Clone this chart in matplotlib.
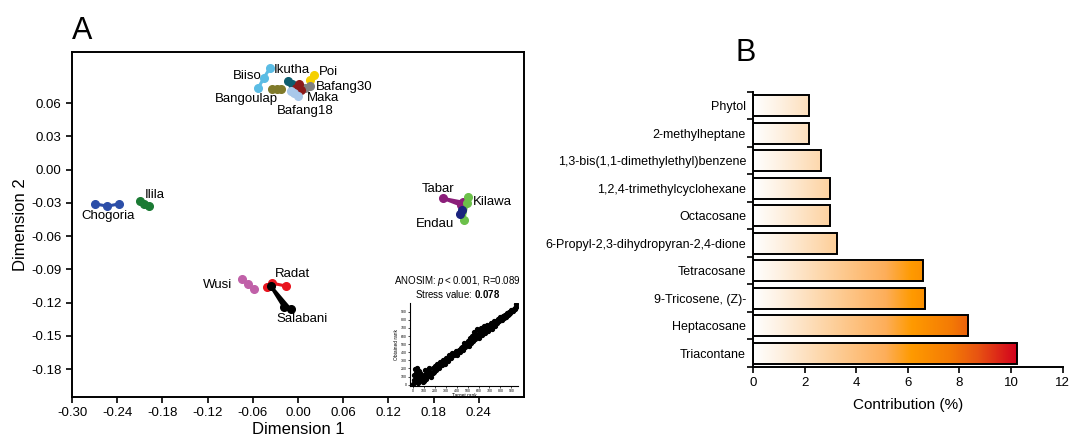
import numpy as np
import matplotlib.pyplot as plt
from matplotlib.colors import LinearSegmentedColormap

plt.rcParams['font.family'] = ['Liberation Sans', 'DejaVu Sans']
plt.rcParams['mathtext.fontset'] = 'custom'
plt.rcParams['mathtext.rm'] = 'Liberation Sans'
plt.rcParams['mathtext.it'] = 'Liberation Sans:italic'
plt.rcParams['mathtext.bf'] = 'Liberation Sans:bold'

# ---- panel A: NMDS ----
groups = ['Biiso', 'Bangoulap', 'Ikutha', 'Poi', 'Bafang30', 'Maka', 'Bafang18',
          'Chogoria', 'Ilila', 'Tabar', 'Kilawa', 'Endau', 'Wusi', 'Radat', 'Salabani']
group_x = [[-0.037, -0.045, -0.053],
           [-0.035, -0.028, -0.022],
           [-0.0135, -0.0077],
           [0.021, 0.0165],
           [0.0156, 0.0099],
           [0.001, -0.0033, 0.0033],
           [-0.0099, -0.0055, -0.0003],
           [-0.270, -0.253, -0.237],
           [-0.2096, -0.204, -0.1974],
           [0.219, 0.193, 0.217],
           [0.226, 0.2246, 0.2202],
           [0.218, 0.215],
           [-0.0738, -0.0664, -0.0585],
           [-0.0417, -0.0341, -0.0165],
           [-0.0188, -0.0364, -0.0099]]
group_y = [[0.0919, 0.083, 0.0734],
           [0.0725, 0.0725, 0.0725],
           [0.080, 0.077],
           [0.0854, 0.0809],
           [0.0755, 0.0737],
           [0.077, 0.074, 0.0719],
           [0.071, 0.0689, 0.0659],
           [-0.0308, -0.033, -0.0308],
           [-0.0279, -0.0308, -0.033],
           [-0.0294, -0.026, -0.0323],
           [-0.0245, -0.030, -0.045],
           [-0.0366, -0.0404],
           [-0.0988, -0.1033, -0.1078],
           [-0.1054, -0.1024, -0.1049],
           [-0.124, -0.1048, -0.126]]
group_colors = ['#5BBCE4', '#7F7A2A', '#0E5E6F', '#F5D000', '#808080', '#8B1A1A', '#A9C8EA',
                '#2C4EA8', '#1A7A33', '#8B1E7A', '#6CC04A', '#1A237E', '#C060A8', '#E8141E', '#000000']
# label anchor (x, y, ha)
label_pos = [(-0.067, 0.0847, 'center'), (-0.069, 0.0635, 'center'), (-0.0077, 0.0898, 'center'),
             (0.0403, 0.0878, 'center'), (0.0231, 0.0748, 'left'), (0.0112, 0.0644, 'left'),
             (0.0099, 0.0524, 'center'), (-0.252, -0.042, 'center'), (-0.2035, -0.0225, 'left'),
             (0.186, -0.0174, 'center'), (0.2325, -0.029, 'left'), (0.182, -0.049, 'center'),
             (-0.107, -0.104, 'center'), (-0.0077, -0.0943, 'center'), (0.0055, -0.1348, 'center')]

# inset Shepard plot (target rank, obtained rank)
shep_target = [5, 10, 15, 20, 25, 30, 35, 40, 45, 50, 55, 60, 70, 80, 90, 100, 110, 120, 130, 140,
               150, 160, 170, 180, 190, 200, 210, 220, 240, 250, 260, 280, 290, 300, 320, 330, 350,
               360, 380, 390, 400, 420, 430, 450, 460, 470, 480, 500, 510, 520, 530, 540, 550, 560,
               570, 580, 590, 600, 610, 620, 630, 640, 650, 660, 670, 680, 690, 700, 710, 720, 730,
               740, 750, 760, 770, 780, 790, 800, 810, 820, 830, 840, 850, 860, 870, 880, 890, 900,
               910, 920, 930, 940, 945,
               65, 105, 145, 185, 230, 270, 310, 340, 370, 410, 440, 490, 525, 545, 575, 605, 635,
               665, 695, 725, 755, 785, 815, 845, 875, 905, 935]
shep_obtained = [10, 60, 120, 190, 30, 150, 80, 200, 20, 110, 170, 50, 140, 90, 30, 120, 180, 70,
                 150, 110, 200, 130, 90, 210, 160, 230, 180, 260, 210, 280, 250, 300, 260, 330, 290,
                 360, 330, 390, 360, 420, 370, 430, 400, 470, 430, 510, 460, 540, 480, 580, 510, 600,
                 540, 650, 560, 620, 690, 580, 660, 700, 610, 680, 720, 640, 700, 740, 660, 730, 760,
                 690, 750, 780, 720, 790, 760, 810, 780, 830, 800, 850, 820, 860, 840, 880, 860, 900,
                 880, 920, 910, 940, 930, 960, 990,
                 80, 40, 170, 140, 230, 240, 300, 350, 380, 400, 450, 500, 550, 570, 610, 630, 650,
                 690, 710, 720, 770, 800, 820, 860, 870, 910, 950]

# ---- panel B: contribution ----
compounds = ['Phytol', '2-methylheptane', '1,3-bis(1,1-dimethylethyl)benzene',
             '1,2,4-trimethylcyclohexane', 'Octacosane', '6-Propyl-2,3-dihydropyran-2,4-dione',
             'Tetracosane', '9-Tricosene, (Z)-', 'Heptacosane', 'Triacontane']
contribution = [2.19, 2.19, 2.65, 3.0, 3.0, 3.26, 6.58, 6.68, 8.35, 10.22]

fig = plt.figure(figsize=(10.72, 4.37), dpi=100)

ax = fig.add_axes([0.0672, 0.0915, 0.4216, 0.7895])
for name, gx, gy, c in zip(groups, group_x, group_y, group_colors):
    ax.plot(gx, gy, '-o', color=c, lw=2.2, ms=5.5, mec=c)
for name, (lx, ly, ha) in zip(groups, label_pos):
    ax.text(lx, ly, name, ha=ha, va='center', fontsize=9.5)
ax.set_xlim(-0.30, 0.30)
ax.set_ylim(-0.205, 0.106)
ax.set_xticks(np.arange(-0.30, 0.25, 0.06))
ax.set_yticks(np.arange(-0.18, 0.07, 0.03))
ax.xaxis.set_major_formatter(plt.FormatStrFormatter('%.2f'))
ax.yaxis.set_major_formatter(plt.FormatStrFormatter('%.2f'))
ax.tick_params(labelsize=9.5, width=1.2, length=4)
for s in ax.spines.values():
    s.set_linewidth(1.4)
ax.set_xlabel('Dimension 1', fontsize=12, labelpad=2)
ax.set_ylabel('Dimension 2', fontsize=12, labelpad=2)
fig.text(0.067, 0.91, 'A', fontsize=22)

ax.text(0.212, -0.1005, r'ANOSIM: $\mathit{p{<}0.001}$, R=0.089', ha='center', va='center', fontsize=7)
ax.text(0.212, -0.112, r'Stress value: $\mathbf{0.078}$', ha='center', va='center', fontsize=7)

ins = fig.add_axes([0.3825, 0.117, 0.1007, 0.19])
ins.plot(shep_target, shep_obtained, 'o', color='black', ms=2.8, mec='black')
ins.set_xlim(-25, 960)
ins.set_ylim(-15, 1010)
ins.set_xticks(np.arange(0, 901, 100))
ins.set_yticks(np.arange(0, 901, 100))
ins.tick_params(labelsize=2.5, length=1.5, width=0.5, pad=1)
ins.spines['top'].set_visible(False)
ins.spines['right'].set_visible(False)
ins.set_xlabel('Target rank', fontsize=3.5, labelpad=0)
ins.set_ylabel('Obtained rank', fontsize=3.5, labelpad=1)
ins.patch.set_alpha(0)

# ---- panel B ----
bx = fig.add_axes([0.7024, 0.1602, 0.2889, 0.6293])
ypos = np.arange(len(compounds))[::-1]
cmap = LinearSegmentedColormap.from_list('heat', [
    (0.0, '#FFFFFF'), (0.1, '#FEF1E2'), (0.3, '#FDD09C'), (0.5, '#FDAE5A'),
    (0.6, '#FF9A00'), (0.75, '#F47A05'), (0.85, '#E85412'), (1.0, '#D2001E')])
grad = np.linspace(0, 1, 256).reshape(1, -1)
bars = bx.barh(ypos, contribution, height=0.76, facecolor='none', edgecolor='black', lw=1.4, zorder=3)
for b in bars:
    im = bx.imshow(grad, cmap=cmap, aspect='auto', extent=(0, 10.25, -0.5, 9.5), zorder=2)
    im.set_clip_path(b)
bx.set_xlim(0, 12)
bx.set_ylim(-0.5, 9.5)
bx.set_xticks(np.arange(0, 13, 2))
bx.set_yticks(np.arange(-0.5, 10, 1))
bx.set_yticklabels([])
bx.set_yticks(ypos, minor=True)
bx.set_yticklabels(compounds, minor=True, fontsize=9)
bx.tick_params(axis='y', which='minor', length=0, pad=5)
bx.tick_params(axis='both', which='major', labelsize=9.5, width=1.2, length=4)
bx.spines['top'].set_visible(False)
bx.spines['right'].set_visible(False)
bx.spines['left'].set_linewidth(1.4)
bx.spines['bottom'].set_linewidth(1.4)
bx.set_xlabel('Contribution (%)', fontsize=11, labelpad=6)
fig.text(0.686, 0.86, 'B', fontsize=22)

fig.savefig('out.png', dpi=100)
